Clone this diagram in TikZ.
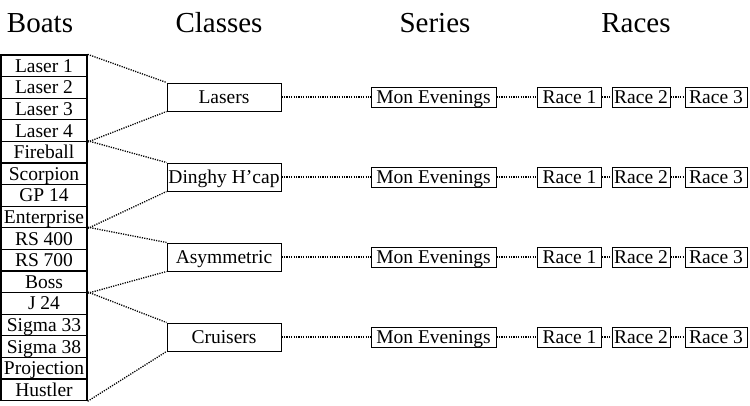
\documentclass[tikz,border=0pt]{standalone}
\usepackage{fontspec}
\setmainfont{Liberation Serif}
\begin{document}
\begin{tikzpicture}[x=1pt,y=-1pt,
 box/.style={draw,line width=1pt,inner sep=0pt,text height=13pt,text depth=0pt,font=\fontsize{19.5}{20}\selectfont},
 boat/.style={box,line width=1.3pt,minimum width=86pt,minimum height=21.6pt},
 cls/.style={box,minimum width=114pt,minimum height=28pt},
 ser/.style={box,minimum width=125pt,minimum height=20pt},
 race/.style={box,minimum height=20pt},
 link/.style={line width=1.3pt,dash pattern=on 1.2pt off 1.2pt},
 title/.style={font=\fontsize{29}{30}\selectfont,anchor=base,inner sep=0pt}]
\useasboundingbox (0,0) rectangle (750,405);
% titles
\node[title] (tb) at (40,32) {Boats};
\node[title] (tc) at (219,32) {Classes};
\node[title] (ts) at (435,32) {Series};
\node[title] (tr) at (636,32) {Races};
% boats
\foreach \n [count=\i from 0] in {Laser 1,Laser 2,Laser 3,Laser 4,Fireball,Scorpion,GP 14,Enterprise,RS 400,RS 700,Boss,J 24,Sigma 33,Sigma 38,Projection,Hustler}
  \node[boat] (b\i) at (44,{65.8+21.6*\i}) {\n};
% classes, series, races
\foreach \c [count=\k from 1] in {Lasers,Dinghy H’cap,Asymmetric,Cruisers}{
  \node[cls] (c\k) at (224,{17+80*\k}) {\c};
  \node[ser] (s\k) at (433.5,{17+80*\k}) {Mon Evenings};
  \node[race,minimum width=64pt] (ra\k) at (569.5,{17+80*\k}) {Race 1};
  \node[race,minimum width=58pt] (rb\k) at (641,{17+80*\k}) {Race 2};
  \node[race,minimum width=62pt] (rc\k) at (716,{17+80*\k}) {Race 3};
  \draw[link] (c\k) -- (s\k);
  \draw[link] (s\k) -- (ra\k);
  \draw[link] (ra\k) -- (rb\k);
  \draw[link] (rb\k) -- (rc\k);
}
% boat-to-class connectors
\draw[link] (b0.north east) -- (c1.north west);
\draw[link] (b3.south east) -- (c1.south west);
\draw[link] (b4.north east) -- (c2.north west);
\draw[link] (b7.south east) -- (c2.south west);
\draw[link] (b8.north east) -- (c3.north west);
\draw[link] (b10.south east) -- (c3.south west);
\draw[link] (b11.north east) -- (c4.north west);
\draw[link] (b15.south east) -- (c4.south west);
\end{tikzpicture}
\end{document}
